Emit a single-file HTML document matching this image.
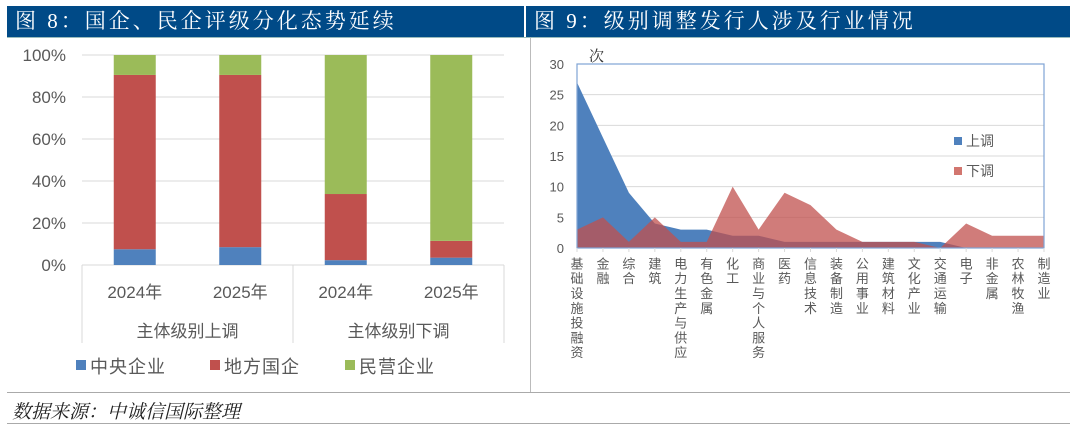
<!DOCTYPE html>
<html><head><meta charset="utf-8"><style>
body{margin:0;width:1080px;height:431px;background:#fff;overflow:hidden;font-family:"Liberation Sans","Noto Sans CJK SC",sans-serif;}
.hdr{position:absolute;top:6px;height:31px;background:#004a87;color:#fff;font-family:"Liberation Serif","Noto Serif CJK SC",serif;font-size:21px;line-height:31px;padding-left:8px;box-sizing:border-box;letter-spacing:3px}
</style></head><body>
<div class="hdr" style="left:7px;width:517px">图 8：国企、民企评级分化态势延续</div>
<div class="hdr" style="left:526px;width:544px">图 9：级别调整发行人涉及行业情况</div>
<div style="position:absolute;left:530px;top:37px;width:1px;height:356px;background:#bbb"></div>
<div style="position:absolute;left:7px;top:37px;width:1063px;height:1px;background:#9bb"></div>
<div style="position:absolute;left:7px;top:392px;width:1063px;height:1px;background:#aaa"></div>
<div style="position:absolute;left:12px;top:397px;font-size:19px;font-style:italic;color:#222;font-family:'Liberation Serif','Noto Serif CJK SC',serif">数据来源：中诚信国际整理</div>
<div style="position:absolute;left:7px;top:423px;width:1063px;height:1px;background:#aaa"></div>

<svg id="left" width="530" height="392" style="position:absolute;left:0;top:0"></svg>
<svg id="right" width="540" height="392" style="position:absolute;left:531px;top:0"></svg>

<script>
const groupLabels=["主体级别上调","主体级别下调"];
const barLabels=["2024年","2025年","2024年","2025年"];
const central=[7.5,8.5,2.3,3.5];
const local=[83,82,31.5,8];
const privateE=[9.5,9.5,66.2,88.5];
const pctTicks=[0,20,40,60,80,100];

const industries=["基础设施投融资","金融","综合","建筑","电力生产与供应","有色金属","化工","商业与个人服务","医药","信息技术","装备制造","公用事业","建筑材料","文化产业","交通运输","电子","非金属","农林牧渔","制造业"];
const upVals=[27,18,9,4,3,3,2,2,1,1,1,1,1,1,1,0,0,0,0];
const downVals=[3,5,1,5,1,1,10,3,9,7,3,1,1,1,0,4,2,2,2];
const countTicks=[0,5,10,15,20,25,30];

const NS="http://www.w3.org/2000/svg";
function mk(svg,tag,attrs,txt){const e=document.createElementNS(NS,tag);for(const k in attrs)e.setAttribute(k,attrs[k]);if(txt!==undefined)e.textContent=txt;svg.appendChild(e);return e;}

// LEFT
(function(){
const s=document.getElementById('left');
const x0=82,x1=504,yT=55,yB=265;
const y=v=>yB-(v/100)*(yB-yT);
const bw=(x1-x0)/barLabels.length;
pctTicks.forEach(t=>{
 const l=mk(s,'line',{x1:x0,x2:x1,y1:y(t),y2:y(t),stroke:'#d9d9d9','stroke-width':1});
 
 const tx=mk(s,'text',{x:66,y:y(t)+6,'text-anchor':'end','font-size':17,fill:'#595959'},t+'%');
 
});
const series=[[central,'#4f81bd','central'],[local,'#c0504d','local'],[privateE,'#9bbb59','private']];
barLabels.forEach((lab,i)=>{
 const cx=x0+bw*(i+0.5);let acc=0;
 series.forEach(([arr,c,n])=>{
  const r=mk(s,'rect',{x:cx-21,width:42,y:y(acc+arr[i]),height:y(acc)-y(acc+arr[i]),fill:c});
  
  acc+=arr[i];
 });
 const t=mk(s,'text',{x:cx,y:298,'text-anchor':'middle','font-size':17,fill:'#595959'},lab);
 
});
[0,2,4].forEach(k=>{const l=mk(s,'line',{x1:x0+bw*k,x2:x0+bw*k,y1:yB,y2:343,stroke:'#d9d9d9'});});
groupLabels.forEach((g,i)=>{const t=mk(s,'text',{x:x0+bw*(2*i+1),y:337,'text-anchor':'middle','font-size':17,fill:'#595959'},g);});
const leg=[['中央企业','#4f81bd',76],['地方国企','#c0504d',210],['民营企业','#9bbb59',345]];
leg.forEach(([n,c,lx])=>{
 const r=mk(s,'rect',{x:lx,y:360,width:10,height:10,fill:c});
 const t=mk(s,'text',{x:lx+14,y:373,'font-size':18,fill:'#595959','letter-spacing':'1'},n);
});
})();

// RIGHT
(function(){
const s=document.getElementById('right');
const ox=531;
const x0=577-ox,x1=1044-ox,yT=64,yB=248;
const y=v=>yB-(v/30)*(yB-yT);
const x=i=>x0+i*(x1-x0)/(industries.length-1);
countTicks.forEach(t=>{
 if(t>0&&t<30){const l=mk(s,'line',{x1:x0,x2:x1,y1:y(t),y2:y(t),stroke:'#d9d9d9'});}
 const tx=mk(s,'text',{x:33,y:y(t)+5,'text-anchor':'end','font-size':13,fill:'#595959'},t);
 
});
const u=mk(s,'text',{x:58,y:61,'font-size':15,fill:'#333','font-family':'Liberation Serif,Noto Serif CJK SC,serif'},'次');

function area(arr,c,op,n){
 let d='M'+x(0)+','+yB;arr.forEach((v,i)=>d+=' L'+x(i)+','+y(v));d+=' L'+x(arr.length-1)+','+yB+' Z';
 const p=mk(s,'path',{d:d,fill:c,'fill-opacity':op});
}
area(upVals,'#4f81bd',1,'area-up');
area(downVals,'#c0504d',0.75,'area-down');
const b=mk(s,'rect',{x:x0,y:yT,width:x1-x0,height:yB-yT,fill:'none',stroke:'#7fa4d4','stroke-width':1.2});

industries.forEach((n,i)=>{
 const tk=mk(s,'line',{x1:x(i),x2:x(i),y1:yB,y2:yB+4,stroke:'#d9d9d9'});
 const t=mk(s,'text',{x:x(i)-1,y:257,'font-size':13,fill:'#595959','writing-mode':'vertical-rl','letter-spacing':'1.8'},n);
 
});
[['上调','#4f81bd',137],['下调','#d2766f',167]].forEach(([n,c,ly])=>{
 const r=mk(s,'rect',{x:954-ox,y:ly,width:8,height:8,fill:c});
 const t=mk(s,'text',{x:966-ox,y:ly+9,'font-size':14,fill:'#595959'},n);
});
})();
</script>
</body></html>
